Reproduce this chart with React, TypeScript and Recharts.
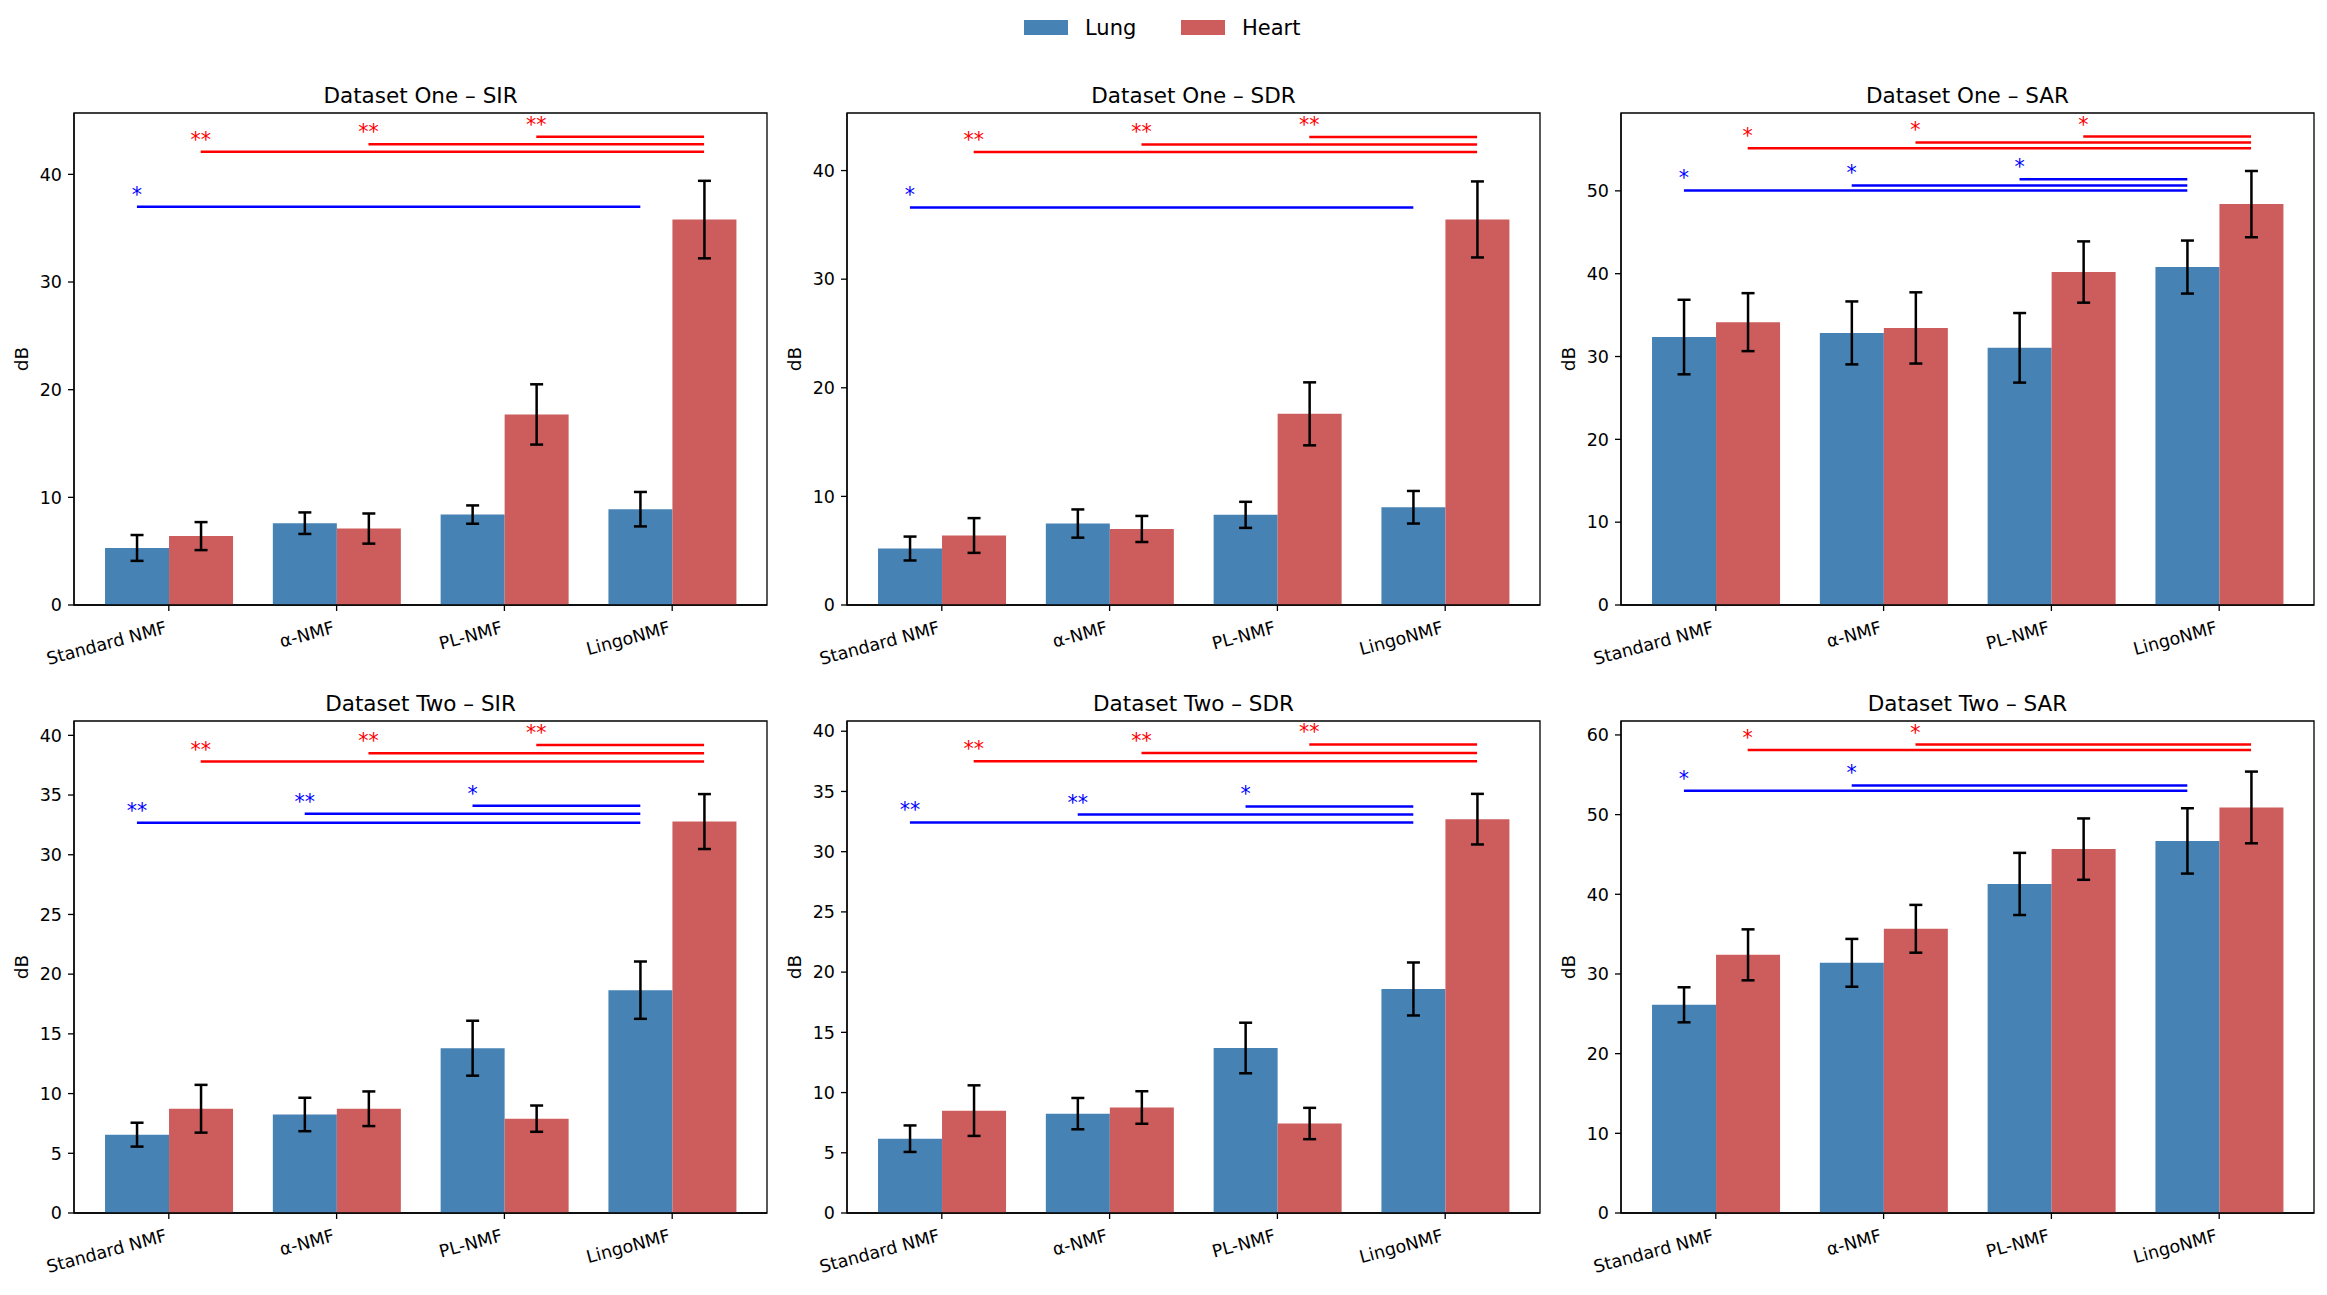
import React from 'react';
import { ComposedChart, Bar, XAxis, YAxis, ErrorBar, ReferenceLine, ReferenceArea, ReferenceDot } from 'recharts';

const FONT = 'DejaVu Sans';
const LUNG_COLOR = '#4682B4';
const HEART_COLOR = '#CD5C5C';
const LUNG_SIG = '#0000ff';
const HEART_SIG = '#ff0000';

const categories = ['Standard NMF', 'α-NMF', 'PL-NMF', 'LingoNMF'];
const seriesNames = ['Lung', 'Heart'];

// Dataset One – SIR
const d1SirLung = [5.3, 7.6, 8.4, 8.9];
const d1SirLungErr = [1.2, 1.0, 0.85, 1.6];
const d1SirHeart = [6.4, 7.1, 17.7, 35.8];
const d1SirHeartErr = [1.3, 1.4, 2.8, 3.6];
const d1SirSig = [
  { s: 'lung', from: 0, to: 3, y: 37.0, mark: '*' },
  { s: 'heart', from: 0, to: 3, y: 42.1, mark: '**' },
  { s: 'heart', from: 1, to: 3, y: 42.8, mark: '**' },
  { s: 'heart', from: 2, to: 3, y: 43.5, mark: '**' },
];

// Dataset One – SDR
const d1SdrLung = [5.2, 7.5, 8.3, 9.0];
const d1SdrLungErr = [1.1, 1.3, 1.2, 1.5];
const d1SdrHeart = [6.4, 7.0, 17.6, 35.5];
const d1SdrHeartErr = [1.6, 1.2, 2.9, 3.5];
const d1SdrSig = [
  { s: 'lung', from: 0, to: 3, y: 36.6, mark: '*' },
  { s: 'heart', from: 0, to: 3, y: 41.7, mark: '**' },
  { s: 'heart', from: 1, to: 3, y: 42.4, mark: '**' },
  { s: 'heart', from: 2, to: 3, y: 43.1, mark: '**' },
];

// Dataset One – SAR
const d1SarLung = [32.35, 32.85, 31.05, 40.8];
const d1SarLungErr = [4.5, 3.8, 4.2, 3.2];
const d1SarHeart = [34.15, 33.45, 40.2, 48.4];
const d1SarHeartErr = [3.5, 4.3, 3.7, 4.0];
const d1SarSig = [
  { s: 'lung', from: 0, to: 3, y: 50.05, mark: '*' },
  { s: 'lung', from: 1, to: 3, y: 50.65, mark: '*' },
  { s: 'lung', from: 2, to: 3, y: 51.4, mark: '*' },
  { s: 'heart', from: 0, to: 3, y: 55.15, mark: '*' },
  { s: 'heart', from: 1, to: 3, y: 55.85, mark: '*' },
  { s: 'heart', from: 2, to: 3, y: 56.55, mark: '*' },
];

// Dataset Two – SIR
const d2SirLung = [6.56, 8.25, 13.8, 18.66];
const d2SirLungErr = [1.0, 1.4, 2.3, 2.4];
const d2SirHeart = [8.73, 8.73, 7.9, 32.78];
const d2SirHeartErr = [2.0, 1.45, 1.1, 2.3];
const d2SirSig = [
  { s: 'lung', from: 0, to: 3, y: 32.68, mark: '**' },
  { s: 'lung', from: 1, to: 3, y: 33.44, mark: '**' },
  { s: 'lung', from: 2, to: 3, y: 34.1, mark: '*' },
  { s: 'heart', from: 0, to: 3, y: 37.8, mark: '**' },
  { s: 'heart', from: 1, to: 3, y: 38.5, mark: '**' },
  { s: 'heart', from: 2, to: 3, y: 39.2, mark: '**' },
];

// Dataset Two – SDR
const d2SdrLung = [6.17, 8.25, 13.7, 18.6];
const d2SdrLungErr = [1.1, 1.3, 2.1, 2.2];
const d2SdrHeart = [8.5, 8.76, 7.43, 32.7];
const d2SdrHeartErr = [2.1, 1.35, 1.3, 2.1];
const d2SdrSig = [
  { s: 'lung', from: 0, to: 3, y: 32.43, mark: '**' },
  { s: 'lung', from: 1, to: 3, y: 33.08, mark: '**' },
  { s: 'lung', from: 2, to: 3, y: 33.76, mark: '*' },
  { s: 'heart', from: 0, to: 3, y: 37.5, mark: '**' },
  { s: 'heart', from: 1, to: 3, y: 38.2, mark: '**' },
  { s: 'heart', from: 2, to: 3, y: 38.9, mark: '**' },
];

// Dataset Two – SAR
const d2SarLung = [26.13, 31.4, 41.3, 46.7];
const d2SarLungErr = [2.2, 3.0, 3.9, 4.1];
const d2SarHeart = [32.4, 35.67, 45.67, 50.9];
const d2SarHeartErr = [3.2, 3.0, 3.85, 4.5];
const d2SarSig = [
  { s: 'lung', from: 0, to: 3, y: 53.0, mark: '*' },
  { s: 'lung', from: 1, to: 3, y: 53.66, mark: '*' },
  { s: 'heart', from: 0, to: 3, y: 58.1, mark: '*' },
  { s: 'heart', from: 1, to: 3, y: 58.8, mark: '*' },
];

const ticks10to40 = [0, 10, 20, 30, 40];
const ticks10to50 = [0, 10, 20, 30, 40, 50];
const ticks5to40 = [0, 5, 10, 15, 20, 25, 30, 35, 40];
const ticks10to60 = [0, 10, 20, 30, 40, 50, 60];

const COL_LEFT = [74, 847, 1621];
const ROW_TOP = [113, 721];
const PLOT_W = 693;
const PLOT_H = 492;
const XPAD = 0.565;
const BAR_W = 0.38;
const TICK_FONT = 17.5;

const panels = [
  { title: 'Dataset One – SIR', col: 0, row: 0, lung: d1SirLung, lungErr: d1SirLungErr, heart: d1SirHeart, heartErr: d1SirHeartErr, sig: d1SirSig, yMax: 45.7, ticks: ticks10to40 },
  { title: 'Dataset One – SDR', col: 1, row: 0, lung: d1SdrLung, lungErr: d1SdrLungErr, heart: d1SdrHeart, heartErr: d1SdrHeartErr, sig: d1SdrSig, yMax: 45.3, ticks: ticks10to40 },
  { title: 'Dataset One – SAR', col: 2, row: 0, lung: d1SarLung, lungErr: d1SarLungErr, heart: d1SarHeart, heartErr: d1SarHeartErr, sig: d1SarSig, yMax: 59.4, ticks: ticks10to50 },
  { title: 'Dataset Two – SIR', col: 0, row: 1, lung: d2SirLung, lungErr: d2SirLungErr, heart: d2SirHeart, heartErr: d2SirHeartErr, sig: d2SirSig, yMax: 41.2, ticks: ticks5to40 },
  { title: 'Dataset Two – SDR', col: 1, row: 1, lung: d2SdrLung, lungErr: d2SdrLungErr, heart: d2SdrHeart, heartErr: d2SdrHeartErr, sig: d2SdrSig, yMax: 40.85, ticks: ticks5to40 },
  { title: 'Dataset Two – SAR', col: 2, row: 1, lung: d2SarLung, lungErr: d2SarLungErr, heart: d2SarHeart, heartErr: d2SarHeartErr, sig: d2SarSig, yMax: 61.75, ticks: ticks10to60 },
];

const XTick = (props: any) => {
  const { x, y, payload } = props;
  const tx = x - 1;
  const ty = y + 22;
  return (
    <text x={tx} y={ty} textAnchor="end" transform={`rotate(-15, ${tx}, ${ty})`} fontSize={TICK_FONT} fontFamily={FONT} fill="#000">
      {payload.value}
    </text>
  );
};

const makeStar = (mark: string, color: string) => (props: any) => {
  const { cx, cy } = props;
  return (
    <text x={cx} y={cy - 5} textAnchor="middle" fontSize={20.5} fontFamily={FONT} fill={color}>
      {mark}
    </text>
  );
};

function Panel({ cfg }: { cfg: any }) {
  const { lung, lungErr, heart, heartErr, sig, yMax, ticks, col, row } = cfg;
  const mL = 74;
  const mT = 10;
  const mR = 10;
  const xH = 90;
  const unit = PLOT_W / (3 + 2 * XPAD);
  const pad = (XPAD - 0.5) * unit;
  const rows = categories.map((name, i) => ({ name, lung: lung[i], lungErr: lungErr[i], heart: heart[i], heartErr: heartErr[i] }));
  const off = (s: string) => (s === 'lung' ? -BAR_W / 2 : BAR_W / 2);
  return (
    <div style={{ position: 'absolute', left: COL_LEFT[col] - mL, top: ROW_TOP[row] - mT }}>
      <ComposedChart
        width={mL + PLOT_W + mR}
        height={mT + PLOT_H + xH}
        data={rows}
        margin={{ top: mT, right: mR, left: 0, bottom: 0 }}
        barCategoryGap="12%"
        barGap={0}
      >
        <XAxis
          dataKey="name"
          type="category"
          height={xH}
          padding={{ left: pad, right: pad }}
          tick={<XTick />}
          tickSize={6}
          tickMargin={0}
          interval={0}
          tickLine={{ stroke: '#000', strokeWidth: 1.3 }}
          axisLine={{ stroke: '#000', strokeWidth: 1.3 }}
        />
        <XAxis xAxisId="num" type="number" dataKey="x" domain={[-XPAD, 3 + XPAD]} hide allowDataOverflow />
        <YAxis
          type="number"
          domain={[0, yMax]}
          ticks={ticks}
          width={mL}
          allowDataOverflow
          tickSize={6}
          tickMargin={6}
          tick={{ fill: '#000', fontSize: TICK_FONT, fontFamily: FONT }}
          tickLine={{ stroke: '#000', strokeWidth: 1.3 }}
          axisLine={{ stroke: '#000', strokeWidth: 1.3 }}
        />
        <Bar dataKey="lung" name={seriesNames[0]} fill={LUNG_COLOR} isAnimationActive={false}>
          <ErrorBar dataKey="lungErr" width={6.5} stroke="#000" strokeWidth={2.5} />
        </Bar>
        <Bar dataKey="heart" name={seriesNames[1]} fill={HEART_COLOR} isAnimationActive={false}>
          <ErrorBar dataKey="heartErr" width={6.5} stroke="#000" strokeWidth={2.5} />
        </Bar>
        {sig.map((l: any, i: number) => (
          <ReferenceLine
            key={'l' + i}
            xAxisId="num"
            segment={[
              { x: l.from + off(l.s), y: l.y },
              { x: l.to + off(l.s), y: l.y },
            ]}
            stroke={l.s === 'lung' ? LUNG_SIG : HEART_SIG}
            strokeWidth={2.5}
          />
        ))}
        {sig.map((l: any, i: number) => (
          <ReferenceDot
            key={'d' + i}
            xAxisId="num"
            x={l.from + off(l.s)}
            y={l.y}
            r={0}
            shape={makeStar(l.mark, l.s === 'lung' ? LUNG_SIG : HEART_SIG)}
          />
        ))}
        <ReferenceArea xAxisId="num" x1={-XPAD} x2={3 + XPAD} y1={0} y2={yMax} fill="none" fillOpacity={0} stroke="#000" strokeWidth={1.3} />
      </ComposedChart>
    </div>
  );
}

export default function App() {
  return (
    <div style={{ position: 'absolute', left: 0, top: 0, width: 2327, height: 1295, background: '#fff' }}>
      {panels.map((p, i) => (
        <Panel key={i} cfg={p} />
      ))}
      <svg width={2327} height={1295} style={{ position: 'absolute', left: 0, top: 0, pointerEvents: 'none' }}>
        {panels.map((p, i) => {
          const cx = COL_LEFT[p.col] + PLOT_W / 2;
          const top = ROW_TOP[p.row];
          const midY = top + PLOT_H / 2;
          const lx = COL_LEFT[p.col] - 46;
          return (
            <g key={i}>
              <text x={cx} y={top - 10} textAnchor="middle" fontSize={21.5} fontFamily={FONT} fill="#000">
                {p.title}
              </text>
              <text x={lx} y={midY} transform={`rotate(-90, ${lx}, ${midY})`} textAnchor="middle" fontSize={18.5} fontFamily={FONT} fill="#000">
                dB
              </text>
            </g>
          );
        })}
        <rect x={1024} y={20} width={44} height={15} fill={LUNG_COLOR} />
        <text x={1085} y={34.5} fontSize={21} fontFamily={FONT} fill="#000">{seriesNames[0]}</text>
        <rect x={1181} y={20} width={44} height={15} fill={HEART_COLOR} />
        <text x={1242} y={34.5} fontSize={21} fontFamily={FONT} fill="#000">{seriesNames[1]}</text>
      </svg>
    </div>
  );
}
